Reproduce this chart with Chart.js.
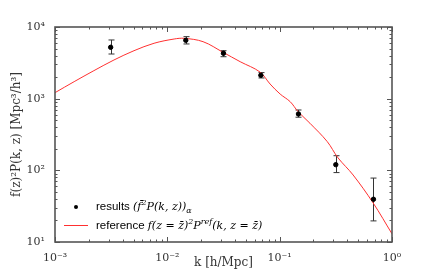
<!DOCTYPE html>
<html>
<head>
<meta charset="utf-8">
<script src="https://cdn.jsdelivr.net/npm/chart.js@4.4.0/dist/chart.umd.min.js"></script>
<style>
  body { margin: 0; background: #fff; }
  #wrap { position: relative; width: 436px; height: 270px; }
  .leg { position: absolute; left: 96px; font-family: "Liberation Sans", Arial, sans-serif; font-size: 11.5px; color: #000; white-space: nowrap; }
  .leg i { font-family: "DejaVu Serif", "Liberation Serif", serif; font-size: 11px; }
  .leg sup, .leg sub { font-size: 8px; }
</style>
</head>
<body>
<div id="wrap">
  <canvas id="myChart" width="436" height="270"></canvas>
  <div class="leg" style="top:198px">results <i>(f&#772;<sup>2</sup>P(k, z))<sub>α</sub></i></div>
  <div class="leg" style="top:217px">reference <i>f(z = z&#772;)<sup>2</sup>P<sup>ref</sup>(k, z = z&#772;)</i></div>
</div>
<script>
// measured points with error bars
let kRes = [0.00313, 0.0146, 0.0316, 0.068, 0.147, 0.316, 0.684];
let pRes = [5210, 6520, 4300, 2120, 612, 120, 39.5];
let pLo = [4200, 5800, 3850, 1945, 551, 93, 19.7];
let pHi = [6590, 7330, 4670, 2310, 695, 160, 78];

// reference curve
let kRef = [0.001, 0.00148, 0.00222, 0.00335, 0.00505, 0.00762, 0.0115, 0.0141, 0.0208, 0.0313, 0.0445, 0.0669, 0.0822, 0.101, 0.124, 0.146, 0.186, 0.265, 0.330, 0.451, 0.680, 1.0];
let pRef = [1213, 1727, 2460, 3467, 4670, 5930, 6800, 6950, 6240, 4440, 3280, 2350, 1600, 1160, 908, 659, 454, 252, 150, 86, 35, 13];

let xTicks = [0.001, 0.01, 0.1, 1];
let yTicks = [10, 100, 1000, 10000];

let sup = { '-': '⁻', '0': '⁰', '1': '¹', '2': '²', '3': '³', '4': '⁴' };
function potencia(v) {
    let e = String(Math.round(Math.log10(v)));
    return '10' + e.split('').map(c => sup[c]).join('');
}

let erros = {
    id: 'erros',
    beforeDatasetsDraw(chart) {
        let ctx = chart.ctx;
        let x = chart.scales.x, y = chart.scales.y;
        ctx.save();
        ctx.strokeStyle = '#333';
        ctx.lineWidth = 1;
        for (let i = 0; i < kRes.length; i++) {
            let px = Math.round(x.getPixelForValue(kRes[i])) + 0.5;
            let y1 = y.getPixelForValue(pLo[i]);
            let y2 = y.getPixelForValue(pHi[i]);
            ctx.beginPath();
            ctx.moveTo(px, y1); ctx.lineTo(px, y2);
            ctx.moveTo(px - 3, y1); ctx.lineTo(px + 3, y1);
            ctx.moveTo(px - 3, y2); ctx.lineTo(px + 3, y2);
            ctx.stroke();
        }
        ctx.restore();
    }
};

let moldura = {
    id: 'moldura',
    afterDraw(chart) {
        let ctx = chart.ctx;
        let a = chart.chartArea;
        let x = chart.scales.x, y = chart.scales.y;
        ctx.save();
        ctx.strokeStyle = '#555';
        ctx.lineWidth = 1;
        ctx.beginPath();
        for (let d = -3; d <= 0; d++) {
            for (let m = 1; m <= 9; m++) {
                let v = m * Math.pow(10, d);
                if (v > 1.0001) continue;
                let px = Math.round(x.getPixelForValue(v)) + 0.5;
                let len = m == 1 ? 5 : 2.5;
                ctx.moveTo(px, a.bottom); ctx.lineTo(px, a.bottom - len);
                ctx.moveTo(px, a.top); ctx.lineTo(px, a.top + len);
            }
        }
        for (let d = 1; d <= 4; d++) {
            for (let m = 1; m <= 9; m++) {
                let v = m * Math.pow(10, d);
                if (v > 10001) continue;
                let py = Math.round(y.getPixelForValue(v)) + 0.5;
                let len = m == 1 ? 5 : 2.5;
                ctx.moveTo(a.left, py); ctx.lineTo(a.left + len, py);
                ctx.moveTo(a.right, py); ctx.lineTo(a.right - len, py);
            }
        }
        ctx.stroke();
        ctx.lineWidth = 1.6;
        ctx.strokeRect(a.left, a.top, a.right - a.left, a.bottom - a.top);
        // legend marks
        ctx.fillStyle = '#000';
        ctx.beginPath();
        ctx.arc(76, 207, 2, 0, 2 * Math.PI);
        ctx.fill();
        ctx.strokeStyle = '#ff3030';
        ctx.lineWidth = 1;
        ctx.beginPath();
        ctx.moveTo(64, 225.5); ctx.lineTo(88, 225.5);
        ctx.stroke();
        ctx.restore();
    }
};

let dados = {
    datasets: [{
        label: 'reference',
        type: 'line',
        data: kRef.map((k, i) => ({ x: k, y: pRef[i] })),
        borderColor: '#ff3030',
        borderWidth: 1,
        pointRadius: 0,
        tension: 0.35,
        order: 2
    }, {
        label: 'results',
        type: 'scatter',
        data: kRes.map((k, i) => ({ x: k, y: pRes[i] })),
        backgroundColor: '#000',
        borderColor: '#000',
        pointRadius: 2.2,
        order: 1
    }]
};

let serif = { family: '"DejaVu Serif", "Liberation Serif", serif', size: 11 };

let options = {
    responsive: false,
    animation: false,
    devicePixelRatio: 1,
    layout: { padding: { left: 0, top: 27, right: 44, bottom: 0 } },
    plugins: { legend: { display: false }, tooltip: { enabled: false } },
    scales: {
        x: {
            type: 'logarithmic',
            min: 0.001, max: 1,
            grid: { display: false },
            border: { display: false },
            afterBuildTicks: s => { s.ticks = xTicks.map(v => ({ value: v, major: true })); },
            afterFit: s => { s.height = 28; },
            ticks: { color: '#333', font: serif, padding: 2, maxRotation: 0, autoSkip: false, callback: v => potencia(v) },
            title: { display: true, text: 'k [h/Mpc]', color: '#333', font: { family: serif.family, size: 12 }, padding: { top: 0, bottom: 0 } }
        },
        y: {
            type: 'logarithmic',
            min: 10, max: 10000,
            grid: { display: false },
            border: { display: false },
            afterBuildTicks: s => { s.ticks = yTicks.map(v => ({ value: v, major: true })); },
            afterFit: s => { s.width = 55; },
            ticks: { color: '#333', font: serif, padding: 2, autoSkip: false, callback: v => potencia(v) },
            title: { display: true, text: 'f(z)²P(k, z) [Mpc³/h³]', color: '#333', font: { family: serif.family, size: 12 }, padding: { top: 10, bottom: 0 } }
        }
    }
};

let myChart = new Chart(document.getElementById('myChart'), { data: dados, options: options, plugins: [erros, moldura] });
</script>
</body>
</html>
